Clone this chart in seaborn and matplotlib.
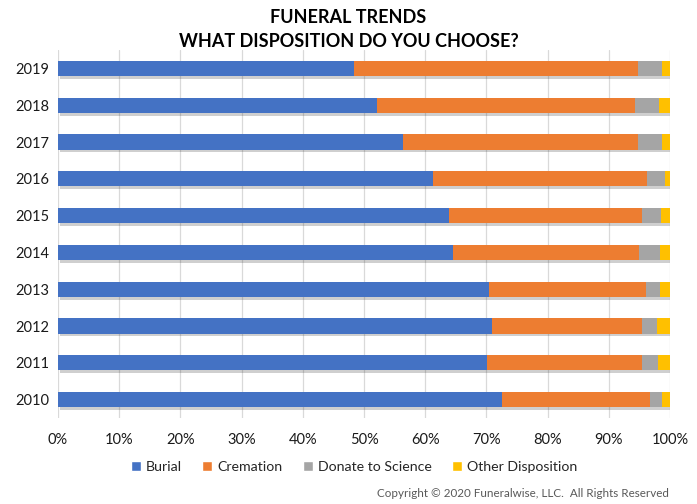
import pandas as pd
import matplotlib.pyplot as plt
import matplotlib.patheffects as pe
from matplotlib.patches import Patch
from matplotlib.ticker import PercentFormatter
import seaborn as sns

# Values (% of respondents)
years = ["2019", "2018", "2017", "2016", "2015", "2014", "2013", "2012", "2011", "2010"]
burial = [48.4, 52.1, 56.4, 61.3, 63.9, 64.5, 70.4, 70.9, 70.1, 72.5]
cremation = [46.4, 42.2, 38.4, 35.0, 31.6, 30.5, 25.7, 24.6, 25.4, 24.3]
donate = [3.9, 3.9, 3.9, 2.9, 3.0, 3.4, 2.3, 2.4, 2.5, 1.9]
other = [1.3, 1.8, 1.3, 0.8, 1.5, 1.6, 1.6, 2.1, 2.0, 1.3]

labels = ["Burial", "Cremation", "Donate to Science", "Other Disposition"]
colors = ["#4472C4", "#ED7D31", "#A5A5A5", "#FFC000"]

df = pd.DataFrame({"year": years, "Burial": burial, "Cremation": cremation,
                   "Donate to Science": donate, "Other Disposition": other})
# cumulative sums for stacking
cum = df[labels].cumsum(axis=1)
cum["year"] = df["year"]

sns.set_style("white")
plt.rcParams["font.family"] = ["Lato", "DejaVu Sans"]

fig = plt.figure(figsize=(6.97, 5.04), dpi=100)
ax = fig.add_axes([0.0832, 0.1706, 0.8781, 0.7302])

# draw from the total down so each shorter bar sits on top
for i in range(len(labels) - 1, -1, -1):
    sns.barplot(data=cum, x=labels[i], y="year", order=years, orient="h",
                color=colors[i], saturation=1, width=0.41, ax=ax, zorder=3)

# soft shadow under the full stacked bar
n = len(years)
for p in ax.patches[:n]:
    p.set_path_effects([pe.SimplePatchShadow(offset=(1.5, -2), alpha=0.25,
                                             shadow_rgbFace="#404040"),
                        pe.Normal()])
for p in ax.patches:
    p.set_linewidth(0)

ax.set_xlim(0, 100)
ax.set_ylim(n - 0.5, -0.5)
ax.xaxis.set_major_locator(plt.MultipleLocator(10))
ax.xaxis.set_major_formatter(PercentFormatter(decimals=0))
ax.grid(axis="x", color="#D9D9D9", linewidth=0.9, zorder=0)
ax.set_axisbelow(True)
for s in ax.spines.values():
    s.set_visible(False)
ax.set_xlabel("")
ax.set_ylabel("")
ax.tick_params(axis="both", length=0, labelsize=10.5, colors="#1a1a1a")
ax.tick_params(axis="x", pad=11)
ax.tick_params(axis="y", pad=6)

fig.text(0.5, 0.966, "FUNERAL TRENDS", ha="center", va="center",
         fontsize=13, fontweight="bold", color="black")
fig.text(0.5, 0.918, "WHAT DISPOSITION DO YOU CHOOSE?", ha="center", va="center",
         fontsize=13, fontweight="bold", color="black")

handles = [Patch(facecolor=c, label=l) for c, l in zip(colors, labels)]
fig.legend(handles=handles, loc="center", bbox_to_anchor=(0.508, 0.073), ncol=4,
           frameon=False, fontsize=10.2, handlelength=0.7, handleheight=0.7,
           handletextpad=0.35, columnspacing=1.45)

fig.text(0.959, 0.021, "Copyright \u00a9 2020 Funeralwise, LLC.  All Rights Reserved",
         ha="right", va="center", fontsize=8.4, color="#595959")

fig.savefig("out.png", dpi=100)
